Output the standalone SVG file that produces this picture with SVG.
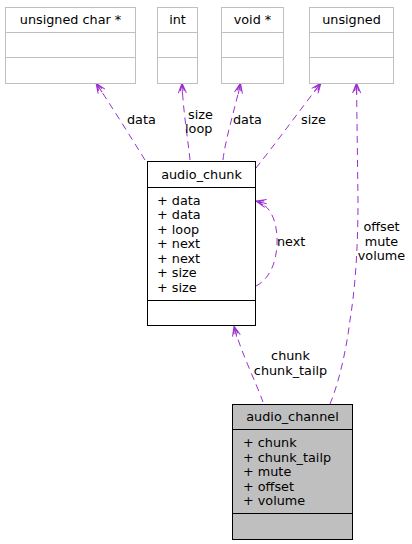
<svg xmlns="http://www.w3.org/2000/svg" width="412" height="544" viewBox="0 0 412 544">
<style>
text{font-family:"DejaVu Sans","Liberation Sans",sans-serif;font-size:12.8px;fill:#000}
.m{text-anchor:middle}
.gb{fill:#fff;stroke:#bfbfbf;stroke-width:1}
.gl{stroke:#bfbfbf;stroke-width:1}
.bb{fill:#fff;stroke:#000;stroke-width:1}
.cb{fill:#bfbfbf;stroke:#000;stroke-width:1}
.bl{stroke:#000;stroke-width:1}
.e{fill:none;stroke:#9a32cd;stroke-width:1;stroke-dasharray:7,5;marker-end:url(#ah)}
</style>
<defs>
<marker id="ah" viewBox="0 0 12 10" refX="11" refY="5" markerWidth="12" markerHeight="10" markerUnits="userSpaceOnUse" orient="auto">
<path d="M1,1 L11,5 L1,9 M0,5 L11,5 M3,3 L11,5 L3,7" fill="none" stroke="#9a32cd" stroke-width="1"/>
</marker>
</defs>
<g id="connectors">
<path class="e" d="M145,160 C132,139 110,104 96,83"/>
<path class="e" d="M190,160 C188,140 183,110 182,83"/>
<path class="e" d="M223,160 C225,140 236,105 240.5,83"/>
<path class="e" d="M256,168 C276,143 300,110 321,83"/>
<path class="e" d="M330,404 C340,380 347,345 350,320 C355,290 358,250 358,200 L356.5,83"/>
<path class="e" d="M256,286 C268,280 276,265 277,245 C278,225 272,205 256,201"/>
<path class="e" d="M263,402 C255,380 240,350 234,326"/>
<text x="127" y="124">data</text>
<text x="188" y="118.5">size</text>
<text x="185" y="132.5">loop</text>
<text x="233" y="124">data</text>
<text x="301" y="124">size</text>
<text x="277" y="246">next</text>
<text class="m" x="381.5" y="231">offset</text>
<text class="m" x="381.5" y="246">mute</text>
<text class="m" x="381.5" y="260">volume</text>
<text class="m" x="290.5" y="360">chunk</text>
<text class="m" x="290.5" y="375">chunk_tailp</text>
</g>
<g id="unsigned_char_ptr">
<rect class="gb" x="5.5" y="7.5" width="130" height="76"/>
<line class="gl" x1="5.5" y1="32.5" x2="135.5" y2="32.5"/>
<line class="gl" x1="5.5" y1="57.5" x2="135.5" y2="57.5"/>
<text class="m" x="70.5" y="24">unsigned char *</text>
</g>
<g id="int">
<rect class="gb" x="157.5" y="7.5" width="40" height="76"/>
<line class="gl" x1="157.5" y1="32.5" x2="197.5" y2="32.5"/>
<line class="gl" x1="157.5" y1="57.5" x2="197.5" y2="57.5"/>
<text class="m" x="177.5" y="24">int</text>
</g>
<g id="void_ptr">
<rect class="gb" x="221.5" y="7.5" width="62" height="76"/>
<line class="gl" x1="221.5" y1="32.5" x2="283.5" y2="32.5"/>
<line class="gl" x1="221.5" y1="57.5" x2="283.5" y2="57.5"/>
<text class="m" x="252.5" y="24">void *</text>
</g>
<g id="unsigned">
<rect class="gb" x="309.5" y="7.5" width="84" height="76"/>
<line class="gl" x1="309.5" y1="32.5" x2="393.5" y2="32.5"/>
<line class="gl" x1="309.5" y1="57.5" x2="393.5" y2="57.5"/>
<text class="m" x="351.5" y="24">unsigned</text>
</g>
<g id="audio_chunk">
<rect class="bb" x="147.5" y="161.5" width="108" height="164"/>
<line class="bl" x1="147.5" y1="187.5" x2="255.5" y2="187.5"/>
<line class="bl" x1="147.5" y1="300.5" x2="255.5" y2="300.5"/>
<text class="m" x="201.5" y="179">audio_chunk</text>
<text x="157" y="204.5">+ data</text>
<text x="157" y="219">+ data</text>
<text x="157" y="233.5">+ loop</text>
<text x="157" y="248">+ next</text>
<text x="157" y="262.5">+ next</text>
<text x="157" y="277">+ size</text>
<text x="157" y="291.5">+ size</text>
</g>
<g id="audio_channel">
<rect class="cb" x="232.5" y="404.5" width="120" height="135"/>
<line class="bl" x1="232.5" y1="429.5" x2="352.5" y2="429.5"/>
<line class="bl" x1="232.5" y1="513.5" x2="352.5" y2="513.5"/>
<text class="m" x="292.5" y="421">audio_channel</text>
<text x="243" y="447">+ chunk</text>
<text x="243" y="461.5">+ chunk_tailp</text>
<text x="243" y="476">+ mute</text>
<text x="243" y="490.5">+ offset</text>
<text x="243" y="505">+ volume</text>
</g>
</svg>
